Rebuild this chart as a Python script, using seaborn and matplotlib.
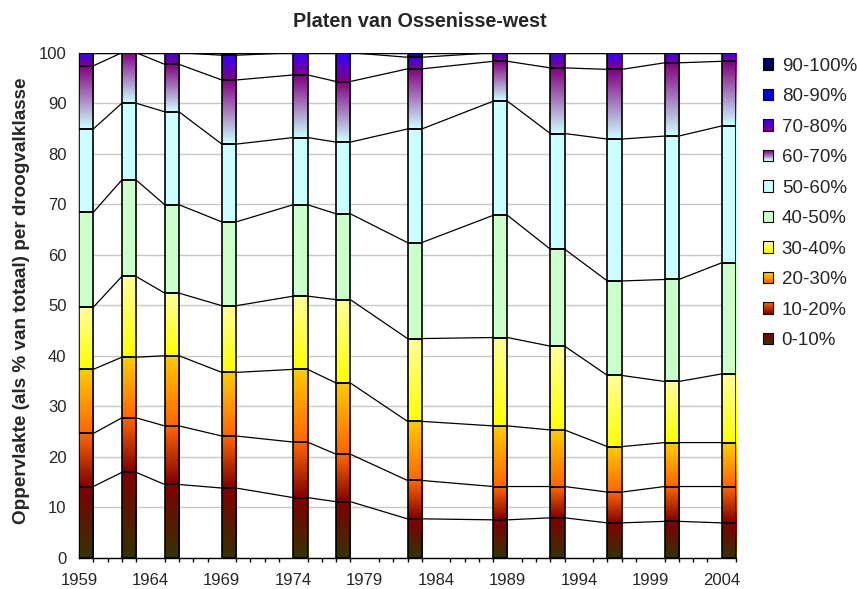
import numpy as np
import pandas as pd
import seaborn as sns
import matplotlib
matplotlib.use("Agg")
import matplotlib.pyplot as plt
from matplotlib.colors import LinearSegmentedColormap
from matplotlib.patches import Rectangle
from matplotlib.legend_handler import HandlerBase
from matplotlib.ticker import MultipleLocator, FixedLocator

# survey years (bars start at the year)
years = [1959, 1962, 1965, 1969, 1974, 1977, 1982, 1988, 1992, 1996, 2000, 2004]

klassen = ["0-10%", "10-20%", "20-30%", "30-40%", "40-50%",
           "50-60%", "60-70%", "70-80%", "80-90%", "90-100%"]

# share (% of total) per drought class, per year
p_0_10 = [14.1, 16.9, 14.5, 13.8, 11.9, 11.1, 7.7, 7.5, 7.9, 6.9, 7.2, 6.9]
p_10_20 = [10.5, 10.8, 11.6, 10.3, 11.0, 9.4, 7.6, 6.6, 6.2, 6.1, 6.9, 7.2]
p_20_30 = [12.7, 12.0, 13.9, 12.6, 14.4, 14.1, 11.7, 12.0, 11.2, 9.0, 8.7, 8.7]
p_30_40 = [12.3, 16.0, 12.4, 13.2, 14.5, 16.5, 16.4, 17.5, 16.6, 14.1, 12.1, 13.6]
p_40_50 = [18.8, 19.1, 17.5, 16.6, 18.1, 17.0, 19.0, 24.2, 19.2, 18.7, 20.2, 22.0]
p_50_60 = [16.5, 15.2, 18.4, 15.4, 13.3, 14.2, 22.5, 22.6, 22.9, 28.1, 28.4, 27.1]
p_60_70 = [12.5, 10.0, 9.4, 12.7, 12.4, 12.0, 11.9, 7.9, 13.0, 13.8, 14.5, 12.8]
p_70_80 = [2.6, 0.0, 2.3, 4.9, 4.4, 5.7, 2.3, 1.7, 3.0, 3.3, 2.0, 1.7]
p_80_90 = [0.0, 0.0, 0.0, 0.5, 0.0, 0.0, 0.9, 0.0, 0.0, 0.0, 0.0, 0.0]
p_90_100 = [0.0] * 12

series = [p_0_10, p_10_20, p_20_30, p_30_40, p_40_50,
          p_50_60, p_60_70, p_70_80, p_80_90, p_90_100]

# gradient colours (bottom -> top) per class
kleuren = [("#333300", "#800000"), ("#800000", "#ff6600"), ("#ff6600", "#ffcc00"),
           ("#ffff00", "#ffff99"), ("#ccffcc", "#ccffcc"), ("#ccffff", "#ccffff"),
           ("#ccffff", "#800080"), ("#800080", "#3300ff"), ("#0000cc", "#0000ff"),
           ("#000033", "#000080")]
cmaps = [LinearSegmentedColormap.from_list(k, c) for k, c in zip(klassen, kleuren)]

sns.set_style("white")
plt.rcParams["font.family"] = ["Liberation Sans", "DejaVu Sans"]

fig = plt.figure(figsize=(8.57, 5.89), dpi=100)
ax = fig.add_axes([0.0922, 0.0531, 0.7666, 0.8574])

breedte = 1.0
vals = np.array(series)
cum = np.cumsum(vals, axis=0)
bottoms = cum - vals
grad = np.linspace(0, 1, 64).reshape(-1, 1)

for k in range(len(klassen)):
    for i, yr in enumerate(years):
        if vals[k, i] <= 0:
            continue
        ax.imshow(grad, cmap=cmaps[k], origin="lower", aspect="auto",
                  extent=(yr, yr + breedte, bottoms[k, i], cum[k, i]),
                  interpolation="bilinear", zorder=3)
    nz = vals[k] > 0
    ax.bar(np.array(years)[nz], vals[k][nz], bottom=bottoms[k][nz], width=breedte,
           align="edge", fill=False, edgecolor="black", linewidth=1.2, zorder=4)

# series lines between the bars
rows = []
for k in range(len(klassen)):
    for i, yr in enumerate(years):
        rows.append((k, yr, cum[k, i]))
        rows.append((k, yr + breedte, cum[k, i]))
lines = pd.DataFrame(rows, columns=["grens", "x", "y"])
sns.lineplot(data=lines, x="x", y="y", units="grens", estimator=None, sort=False,
             color="black", linewidth=0.9, ax=ax, zorder=2)

ax.set_xlim(1959, 2005)
ax.set_ylim(0, 100)
ax.set_xlabel("")
ax.set_ylabel("")
ax.xaxis.set_major_locator(FixedLocator(list(range(1959, 2005, 5))))
ax.xaxis.set_minor_locator(MultipleLocator(1))
ax.set_yticks(range(0, 101, 10))
ax.yaxis.grid(True, color="#c8c8c8", linewidth=1.0, zorder=0)
ax.set_axisbelow(True)
ax.tick_params(axis="both", which="major", direction="out", length=5, width=1,
               color="black", labelsize=12, pad=4)
ax.tick_params(axis="x", which="major", pad=6)
ax.tick_params(axis="x", which="minor", direction="out", length=3, width=1,
               color="black", bottom=True)
for s in ["top", "right"]:
    ax.spines[s].set_visible(False)
for s in ["left", "bottom"]:
    ax.spines[s].set_color("black")
    ax.spines[s].set_linewidth(1.0)

fig.text(0.4895, 0.964, "Platen van Ossenisse-west", ha="center", va="center",
         fontsize=14.2, fontweight="bold")
fig.text(0.025, 0.49, "Oppervlakte (als % van totaal) per droogvalklasse",
         rotation=90, ha="center", va="center", fontsize=13.6, fontweight="bold")


class Swatch:
    def __init__(self, cmap):
        self.cmap = cmap


class GradientHandler(HandlerBase):
    def create_artists(self, legend, orig_handle, xdescent, ydescent, width,
                       height, fontsize, trans):
        arts = []
        n = 12
        for j in range(n):
            arts.append(Rectangle((-xdescent, -ydescent + height * j / n), width,
                                  height / n, facecolor=orig_handle.cmap(j / (n - 1)),
                                  edgecolor="none", transform=trans))
        arts.append(Rectangle((-xdescent, -ydescent), width, height, facecolor="none",
                              edgecolor="black", linewidth=0.8, transform=trans))
        return arts


handles = [Swatch(c) for c in cmaps][::-1]
fig.legend(handles, klassen[::-1], handler_map={Swatch: GradientHandler()},
           loc="upper left", bbox_to_anchor=(0.8903, 0.902), frameon=False,
           fontsize=13.5, handlelength=0.55, handleheight=0.55, handletextpad=0.45,
           labelspacing=0.72, borderpad=0, borderaxespad=0)

fig.savefig("out.png", dpi=100)
